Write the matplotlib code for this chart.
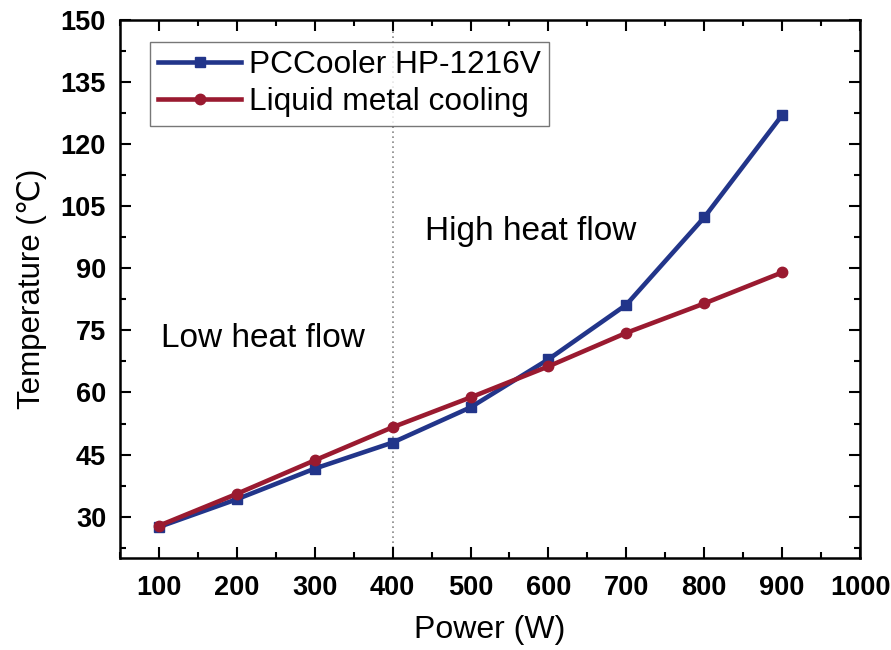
import matplotlib
matplotlib.use("Agg")
import matplotlib.pyplot as plt
from matplotlib.ticker import AutoMinorLocator

power = [100, 200, 300, 400, 500, 600, 700, 800, 900]
pccooler = [27.5, 34.2, 41.6, 47.9, 56.4, 68.0, 81.2, 102.3, 127.0]
liquid_metal = [27.8, 35.5, 43.6, 51.6, 58.8, 66.3, 74.4, 81.5, 89.0]

x_ticks = [100, 200, 300, 400, 500, 600, 700, 800, 900, 1000]
y_ticks = [30, 45, 60, 75, 90, 105, 120, 135, 150]

plt.rcParams['font.family'] = ['Liberation Sans', 'DejaVu Sans']

fig = plt.figure(figsize=(8.91, 6.5), dpi=100)
ax = fig.add_axes([120 / 891, 1 - 558 / 650, 740 / 891, 538 / 650])

blue = '#22358a'
red = '#9a1a30'

ax.axvline(400, color='#888888', linestyle=(0, (1, 2)), linewidth=1.2, zorder=1)

ax.plot(power, pccooler, color=blue, linewidth=3.3, marker='s', markersize=7.5,
        label='PCCooler HP-1216V', zorder=3)
ax.plot(power, liquid_metal, color=red, linewidth=3.3, marker='o', markersize=7.5,
        label='Liquid metal cooling', zorder=3)

ax.set_xlim(50, 1000)
ax.set_ylim(20, 150)
ax.set_xticks(x_ticks)
ax.set_yticks(y_ticks)
ax.xaxis.set_minor_locator(AutoMinorLocator(2))
ax.yaxis.set_minor_locator(AutoMinorLocator(2))
ax.tick_params(which='both', direction='in', top=True, right=True, width=1.5)
ax.tick_params(which='major', length=8, labelsize=19.5, pad=10)
ax.tick_params(which='minor', length=4)
ax.tick_params(axis='x', labeltop=False, pad=12)
ax.tick_params(axis='y', labelright=False)
for lbl in ax.get_xticklabels() + ax.get_yticklabels():
    lbl.set_fontweight('bold')
for s in ax.spines.values():
    s.set_linewidth(1.8)

ax.set_xlabel('Power (W)', fontsize=23, labelpad=10)
ax.set_ylabel('Temperature (℃)', fontsize=22.5, labelpad=10)

ax.text(103, 73, 'Low heat flow', fontsize=24, va='center', ha='left')
ax.text(442, 99, 'High heat flow', fontsize=24, va='center', ha='left')

leg = ax.legend(loc='upper left', bbox_to_anchor=(0.04, 0.96), fontsize=22.8,
                frameon=True, fancybox=False, handlelength=2.6,
                borderpad=0.28, labelspacing=0.22, handletextpad=0.25,
                borderaxespad=0.0)
leg.get_frame().set_edgecolor('#555555')
leg.get_frame().set_linewidth(1.0)

fig.savefig('out.png', dpi=100)
